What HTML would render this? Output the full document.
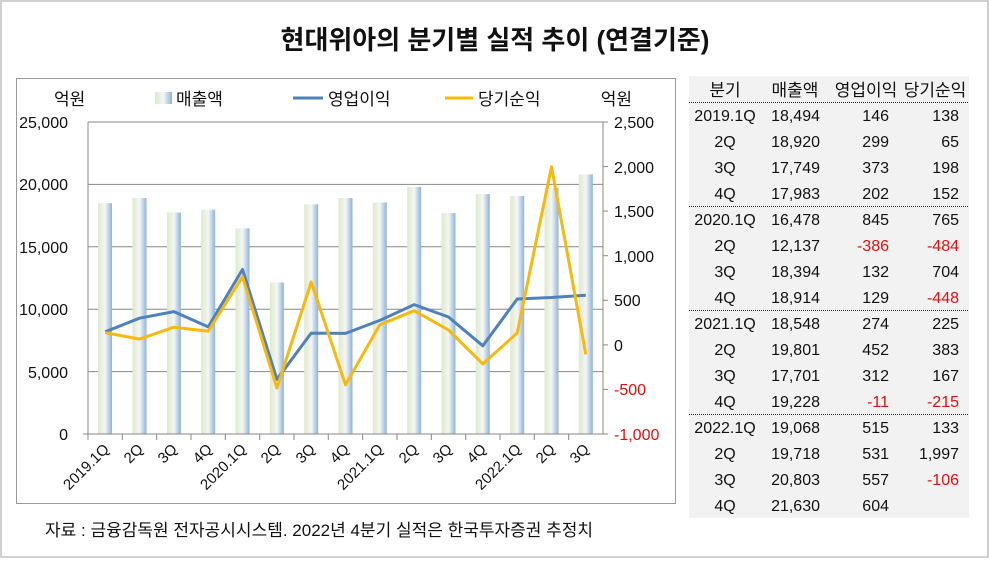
<!DOCTYPE html>
<html><head><meta charset="utf-8"><style>
body{margin:0;width:990px;height:560px;background:#fff;overflow:hidden}
svg text{font-family:"Liberation Sans","Noto Sans CJK KR",sans-serif}
</style></head><body>
<svg width="990" height="560" viewBox="0 0 990 560" xmlns="http://www.w3.org/2000/svg">
<defs><linearGradient id="g" x1="0" x2="1" y1="0" y2="0">
<stop offset="0" stop-color="#dfe8cc"/><stop offset="0.5" stop-color="#f4f7f4"/><stop offset="1" stop-color="#8fb2de"/></linearGradient></defs>
<rect x="1" y="1" width="987" height="556" fill="#fff" stroke="#d0d0d0" stroke-width="2"/>
<text x="495" y="49" text-anchor="middle" font-size="26" font-weight="bold" fill="#111">현대위아의 분기별 실적 추이 (연결기준)</text>
<rect x="16.5" y="78.5" width="659" height="425" fill="none" stroke="#999"/>
<!-- legend -->
<g font-size="17" fill="#111">
<text x="54" y="105">억원</text>
<rect x="155" y="92" width="17" height="12" fill="url(#g)"/><text x="176" y="105">매출액</text>
<line x1="293" y1="98" x2="323" y2="98" stroke="#4f81bd" stroke-width="3"/><text x="328" y="105">영업이익</text>
<line x1="445" y1="98" x2="473" y2="98" stroke="#f5b90f" stroke-width="3"/><text x="478" y="105">당기순익</text>
<text x="632" y="105" text-anchor="end">억원</text>
</g>
<!-- grid -->
<g stroke="#888" stroke-width="1">
<line x1="88" y1="122" x2="603" y2="122"/><line x1="88" y1="184.4" x2="603" y2="184.4"/>
<line x1="88" y1="246.8" x2="603" y2="246.8"/><line x1="88" y1="309.2" x2="603" y2="309.2"/>
<line x1="88" y1="371.6" x2="603" y2="371.6"/>
</g>
<g fill="url(#g)">
<rect x="98" y="203.2" width="14" height="230.8"/><rect x="132.5" y="197.9" width="14" height="236.1"/>
<rect x="166.9" y="212.5" width="14" height="221.5"/><rect x="201.2" y="209.6" width="14" height="224.4"/>
<rect x="235.5" y="228.4" width="14" height="205.6"/><rect x="269.9" y="282.5" width="14" height="151.5"/>
<rect x="304.2" y="204.4" width="14" height="229.6"/><rect x="338.5" y="198" width="14" height="236"/>
<rect x="372.8" y="202.5" width="14" height="231.5"/><rect x="407.2" y="186.9" width="14" height="247.1"/>
<rect x="441.5" y="213.1" width="14" height="220.9"/><rect x="475.8" y="194" width="14" height="240"/>
<rect x="510.2" y="196" width="14" height="238"/><rect x="544.5" y="187.9" width="14" height="246.1"/>
<rect x="578.8" y="174.4" width="14" height="259.6"/>
</g>
<g stroke="#888" stroke-width="1">
<line x1="88" y1="122" x2="88" y2="434"/><line x1="603" y1="122" x2="603" y2="434"/>
<line x1="83" y1="434" x2="608" y2="434"/>
<line x1="603" y1="122" x2="608" y2="122"/><line x1="603" y1="166.6" x2="608" y2="166.6"/><line x1="603" y1="211.1" x2="608" y2="211.1"/><line x1="603" y1="255.7" x2="608" y2="255.7"/><line x1="603" y1="300.3" x2="608" y2="300.3"/><line x1="603" y1="344.9" x2="608" y2="344.9"/><line x1="603" y1="389.4" x2="608" y2="389.4"/>
<path d="M88 434v6M122.3 434v6M156.7 434v6M191 434v6M225.3 434v6M259.7 434v6M294 434v6M328.3 434v6M362.7 434v6M397 434v6M431.3 434v6M465.7 434v6M500 434v6M534.3 434v6M568.7 434v6"/>
</g>
<polyline fill="none" stroke="#4f81bd" stroke-width="3" stroke-linejoin="round" points="105.2,331.8 139.5,318.2 173.9,311.6 208.2,326.9 242.5,269.5 276.9,379.3 311.2,333.1 345.5,333.4 379.8,320.4 414.2,304.6 448.5,317 482.8,345.8 517.2,299 551.5,297.5 585.8,295.2"/>
<polyline fill="none" stroke="#f5b90f" stroke-width="3" stroke-linejoin="round" points="105.2,332.6 139.5,339.1 173.9,327.2 208.2,331.3 242.5,276.7 276.9,388 311.2,282.1 345.5,384.8 379.8,324.8 414.2,310.7 448.5,330 482.8,364 517.2,333 551.5,166.8 585.8,354.3"/>
<g font-size="16" fill="#111" text-anchor="end">
<text x="68" y="128">25,000</text><text x="68" y="190">20,000</text><text x="68" y="253">15,000</text>
<text x="68" y="315">10,000</text><text x="68" y="378">5,000</text><text x="68" y="440">0</text>
</g>
<g font-size="16" fill="#111">
<text x="614" y="128">2,500</text><text x="614" y="173">2,000</text><text x="614" y="217">1,500</text>
<text x="614" y="262">1,000</text><text x="614" y="306">500</text><text x="614" y="351">0</text>
<text x="614" y="395" fill="#e01010">-500</text><text x="614" y="440" fill="#e01010">-1,000</text>
</g>
<g font-size="15" fill="#111" text-anchor="end">
<text transform="translate(110,450) rotate(-45)">2019.1Q</text>
<text transform="translate(144,450) rotate(-45)">2Q</text>
<text transform="translate(178,450) rotate(-45)">3Q</text>
<text transform="translate(213,450) rotate(-45)">4Q</text>
<text transform="translate(247,450) rotate(-45)">2020.1Q</text>
<text transform="translate(281,450) rotate(-45)">2Q</text>
<text transform="translate(316,450) rotate(-45)">3Q</text>
<text transform="translate(350,450) rotate(-45)">4Q</text>
<text transform="translate(384,450) rotate(-45)">2021.1Q</text>
<text transform="translate(419,450) rotate(-45)">2Q</text>
<text transform="translate(453,450) rotate(-45)">3Q</text>
<text transform="translate(487,450) rotate(-45)">4Q</text>
<text transform="translate(522,450) rotate(-45)">2022.1Q</text>
<text transform="translate(556,450) rotate(-45)">2Q</text>
<text transform="translate(590,450) rotate(-45)">3Q</text>
</g>
<text x="45" y="536" font-size="17" fill="#111">자료 : 금융감독원 전자공시시스템. 2022년 4분기 실적은 한국투자증권 추정치</text>
<!-- table -->
<rect x="689" y="76" width="280" height="442" fill="#f2f2f2"/>
<g stroke="#222" stroke-width="1" stroke-dasharray="1,1">
<line x1="689" y1="102.5" x2="969" y2="102.5"/><line x1="689" y1="206.5" x2="969" y2="206.5"/>
<line x1="689" y1="310.5" x2="969" y2="310.5"/><line x1="689" y1="414.5" x2="969" y2="414.5"/>
</g>
<g font-size="17" fill="#111">
<text x="725" y="96" text-anchor="middle">분기</text>
<text x="795" y="96" text-anchor="middle">매출액</text>
<text x="866" y="96" text-anchor="middle">영업이익</text>
<text x="935" y="96" text-anchor="middle">당기순익</text>
</g>
<g font-size="16" fill="#111">
<g text-anchor="middle">
<text x="725" y="121">2019.1Q</text><text x="725" y="147">2Q</text><text x="725" y="173">3Q</text><text x="725" y="199">4Q</text>
<text x="725" y="225">2020.1Q</text><text x="725" y="251">2Q</text><text x="725" y="277">3Q</text><text x="725" y="303">4Q</text>
<text x="725" y="329">2021.1Q</text><text x="725" y="355">2Q</text><text x="725" y="381">3Q</text><text x="725" y="407">4Q</text>
<text x="725" y="433">2022.1Q</text><text x="725" y="459">2Q</text><text x="725" y="485">3Q</text><text x="725" y="511">4Q</text>
</g>
<g text-anchor="end">
<text x="820" y="121">18,494</text><text x="820" y="147">18,920</text><text x="820" y="173">17,749</text><text x="820" y="199">17,983</text>
<text x="820" y="225">16,478</text><text x="820" y="251">12,137</text><text x="820" y="277">18,394</text><text x="820" y="303">18,914</text>
<text x="820" y="329">18,548</text><text x="820" y="355">19,801</text><text x="820" y="381">17,701</text><text x="820" y="407">19,228</text>
<text x="820" y="433">19,068</text><text x="820" y="459">19,718</text><text x="820" y="485">20,803</text><text x="820" y="511">21,630</text>
<text x="889" y="121">146</text><text x="889" y="147">299</text><text x="889" y="173">373</text><text x="889" y="199">202</text>
<text x="889" y="225">845</text><text x="889" y="251" fill="#e01010">-386</text><text x="889" y="277">132</text><text x="889" y="303">129</text>
<text x="889" y="329">274</text><text x="889" y="355">452</text><text x="889" y="381">312</text><text x="889" y="407" fill="#e01010">-11</text>
<text x="889" y="433">515</text><text x="889" y="459">531</text><text x="889" y="485">557</text><text x="889" y="511">604</text>
<text x="959" y="121">138</text><text x="959" y="147">65</text><text x="959" y="173">198</text><text x="959" y="199">152</text>
<text x="959" y="225">765</text><text x="959" y="251" fill="#e01010">-484</text><text x="959" y="277">704</text><text x="959" y="303" fill="#e01010">-448</text>
<text x="959" y="329">225</text><text x="959" y="355">383</text><text x="959" y="381">167</text><text x="959" y="407" fill="#e01010">-215</text>
<text x="959" y="433">133</text><text x="959" y="459">1,997</text><text x="959" y="485" fill="#e01010">-106</text>
</g>
</g>
</svg>
</body></html>
